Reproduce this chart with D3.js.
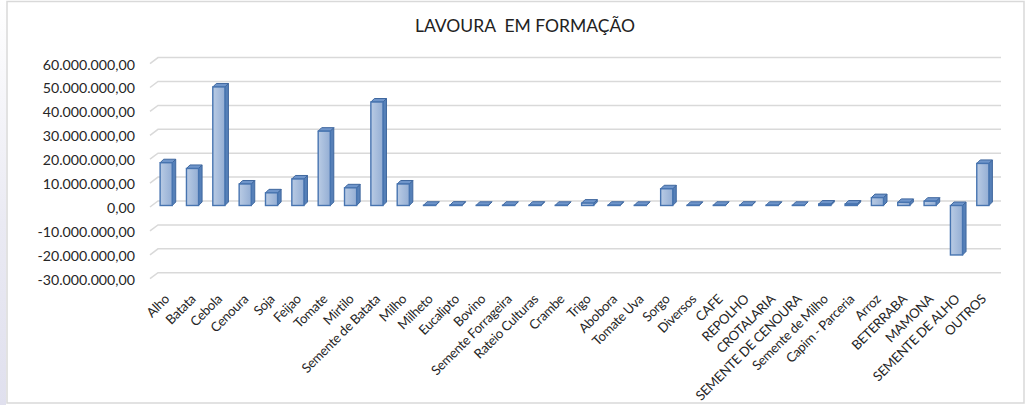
<!DOCTYPE html>
<html>
<head>
<meta charset="utf-8">
<script src="https://cdn.jsdelivr.net/npm/d3@7"></script>
<style>
    body { margin: 0; background: #fff; }
    svg { display: block; }
</style>
</head>
<body>
<div id="chart"></div>
<script>
// categories and values
var categories = ["Alho", "Batata", "Cebola", "Cenoura", "Soja", "Feijao", "Tomate", "Mirtilo",
    "Semente de Batata", "Milho", "Milheto", "Eucalipto", "Bovino", "Semente Forrageira",
    "Rateio Culturas", "Crambe", "Trigo", "Abobora", "Tomate Uva", "Sorgo", "Diversos", "CAFE",
    "REPOLHO", "CROTALARIA", "SEMENTE DE CENOURA", "Semente de Milho", "Capim - Parceria",
    "Arroz", "BETERRABA", "MAMONA", "SEMENTE DE ALHO", "OUTROS"];

var values = [17900000, 15500000, 49600000, 9000000, 5300000, 11100000, 31100000, 7400000,
    43300000, 9000000, 100000, 150000, 80000, 100000, 120000, 80000, 1000000, 100000, 80000,
    7000000, 80000, 100000, 120000, 100000, 80000, 600000, 600000, 3300000, 1300000, 1800000,
    -20700000, 17600000];

var yTicks = [-30000000, -20000000, -10000000, 0, 10000000, 20000000, 30000000, 40000000, 50000000, 60000000];

var title = "LAVOURA  EM FORMAÇÃO";

var W = 1026, H = 405;
var depth = 3.5;        // bar depth offset
var wall = {dx: 8, dy: -6};

var svg = d3.select("#chart").append("svg")
    .attr("width", W)
    .attr("height", H);

var defs = svg.append("defs");

var strip = defs.append("linearGradient").attr("id", "strip")
    .attr("x1", 0).attr("y1", 0).attr("x2", 0).attr("y2", 1);
strip.append("stop").attr("offset", "0%").attr("stop-color", "#ffffff");
strip.append("stop").attr("offset", "55%").attr("stop-color", "#eaeaf3");
strip.append("stop").attr("offset", "100%").attr("stop-color", "#e0e0ee");

var front = defs.append("linearGradient").attr("id", "front")
    .attr("x1", 0).attr("y1", 0).attr("x2", 1).attr("y2", 0);
front.append("stop").attr("offset", "0%").attr("stop-color", "#b9cbe4");
front.append("stop").attr("offset", "100%").attr("stop-color", "#94aed4");

// frame
svg.append("rect")
    .attr("x", 0).attr("y", 0).attr("width", 6).attr("height", H)
    .attr("fill", "url(#strip)");
svg.append("rect")
    .attr("x", 7).attr("y", 1.5).attr("width", 1017).attr("height", 401.5)
    .attr("fill", "#fff")
    .attr("stroke", "#d9d9d9")
    .attr("stroke-width", 1.5);

svg.append("text")
    .attr("x", 525)
    .attr("y", 32)
    .attr("text-anchor", "middle")
    .attr("font-family", "Lato, 'Open Sans', sans-serif")
    .attr("font-size", 17.5)
    .attr("fill", "#222")
    .style("white-space", "pre")
    .text(title);

var x = d3.scaleBand()
    .domain(categories)
    .range([153, 996])
    .paddingInner(0.54)
    .paddingOuter(0.27);

var y = d3.scaleLinear()
    .domain([-30000000, 60000000])
    .range([277.2, 62.1]);

var locale = d3.formatLocale({decimal: ",", thousands: ".", grouping: [3], currency: ["", ""], minus: "-"});
var fmt = locale.format(",.2f");

// gridlines on the back wall plus the floor diagonal on the side
var grid = svg.append("g").attr("class", "grid");
grid.selectAll(".gl")
    .data(yTicks)
    .enter().append("path")
    .attr("class", "gl")
    .attr("d", function(d) {
        var yf = y(d) + 1.5;
        return "M150," + yf + "L" + (150 + wall.dx) + "," + (yf + wall.dy) + "L1001," + (yf + wall.dy);
    })
    .attr("fill", "none")
    .attr("stroke", "#d9d9d9")
    .attr("stroke-width", 1.5);

svg.append("g").attr("class", "y-labels")
    .selectAll("text")
    .data(yTicks)
    .enter().append("text")
    .attr("x", 135)
    .attr("y", function(d) { return y(d) + 2.5; })
    .attr("dy", "0.35em")
    .attr("text-anchor", "end")
    .attr("font-family", "Lato, 'Open Sans', sans-serif")
    .attr("font-size", 14.2)
    .attr("fill", "#262626")
    .text(function(d) { return fmt(d); });

// 3d bars
var bars = svg.append("g").attr("class", "bars")
    .selectAll("g")
    .data(categories.map(function(c, i) { return {cat: c, value: values[i]}; }))
    .enter().append("g");

function barTop(d) { return y(Math.max(d.value, 0)); }
function barBottom(d) { return y(Math.min(d.value, 0)); }

bars.append("path")
    .attr("d", function(d) {
        var x0 = x(d.cat) + x.bandwidth(), t = barTop(d), b = barBottom(d);
        return "M" + x0 + "," + t + "L" + (x0 + depth) + "," + (t - depth) +
            "L" + (x0 + depth) + "," + (b - depth) + "L" + x0 + "," + b + "Z";
    })
    .attr("fill", "#5680b8")
    .attr("stroke", "#3f679e")
    .attr("stroke-width", 1)
    .attr("stroke-linejoin", "round");

bars.append("path")
    .attr("d", function(d) {
        var x0 = x(d.cat), bw = x.bandwidth(), t = barTop(d);
        return "M" + x0 + "," + t + "L" + (x0 + depth) + "," + (t - depth) +
            "L" + (x0 + bw + depth) + "," + (t - depth) + "L" + (x0 + bw) + "," + t + "Z";
    })
    .attr("fill", "#6f95ca")
    .attr("stroke", "#3f679e")
    .attr("stroke-width", 1)
    .attr("stroke-linejoin", "round");

bars.append("rect")
    .attr("x", function(d) { return x(d.cat); })
    .attr("y", barTop)
    .attr("width", x.bandwidth())
    .attr("height", function(d) { return barBottom(d) - barTop(d); })
    .attr("fill", "url(#front)")
    .attr("stroke", "#4774b0")
    .attr("stroke-width", 1.4);

// rotated category labels
svg.append("g").attr("class", "x-labels")
    .selectAll("text")
    .data(categories)
    .enter().append("text")
    .attr("transform", function(d) {
        return "translate(" + (x(d) + x.bandwidth() / 2 + 4) + ",300) rotate(-45)";
    })
    .attr("text-anchor", "end")
    .attr("font-family", "Lato, 'Open Sans', sans-serif")
    .attr("font-size", 13.2)
    .attr("letter-spacing", -0.3)
    .attr("fill", "#262626")
    .text(function(d) { return d; });
</script>
</body>
</html>
